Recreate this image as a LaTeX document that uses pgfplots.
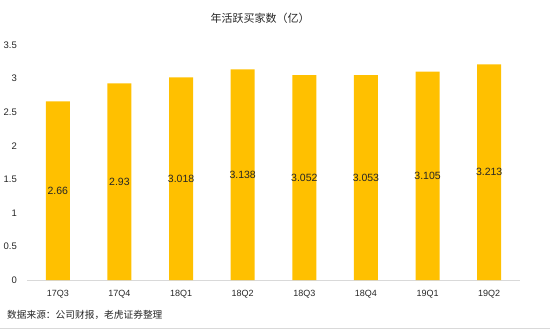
\documentclass[border=0pt]{standalone}
\usepackage{pgfplots}
\pgfplotsset{compat=1.18}
\usepackage{pgfplotstable}
\usepackage{fontspec}
\setmainfont{Liberation Sans}
\newfontfamily\cjk{Noto Sans CJK SC}
\definecolor{bargold}{HTML}{FFC000}
\definecolor{txt}{HTML}{262626}
\definecolor{axgray}{HTML}{D9D9D9}
\pgfplotstableread{
x y lab
0 2.66 2.66
1 2.93 2.93
2 3.018 3.018
3 3.138 3.138
4 3.052 3.052
5 3.053 3.053
6 3.105 3.105
7 3.213 3.213
}\datatable
\begin{document}
\begin{tikzpicture}[x=1bp,y=1bp]
\path[use as bounding box] (0,0) rectangle (550,329);
\begin{axis}[
  at={(27bp,49bp)}, anchor=south west,
  scale only axis, width=493bp, height=235bp,
  xmin=-0.5, xmax=7.5, ymin=0, ymax=3.5,
  ytick={0,0.5,1,1.5,2,2.5,3,3.5},
  yticklabels={0,0.5,1,1.5,2,2.5,3,3.5},
  xtick={0,1,2,3,4,5,6,7},
  xticklabels={17Q3,17Q4,18Q1,18Q2,18Q3,18Q4,19Q1,19Q2},
  major tick length=0pt,
  axis line style={draw=none},
  extra y ticks={0}, extra y tick labels={},
  extra y tick style={grid=major, major grid style={axgray, line width=1bp}},
  y tick label style={font=\fontsize{9.5bp}{11bp}\selectfont, text=txt, anchor=east, inner sep=0pt, xshift=-10bp},
  x tick label style={font=\fontsize{9bp}{10bp}\selectfont, text=txt, anchor=north, inner sep=0pt, yshift=-10.5bp},
  clip=false,
]
\addplot[ybar, bar width=24bp, fill=bargold, draw=none] table[x=x, y=y] {\datatable};
\addplot[draw=none, mark=none, nodes near coords, point meta=explicit symbolic,
  nodes near coords style={anchor=center, font=\fontsize{10.5bp}{12bp}\selectfont, text=txt, inner sep=0pt}]
  table[x=x, y expr=\thisrow{y}/2, meta=lab] {\datatable};
\end{axis}
\node[font=\cjk\fontsize{11bp}{13bp}\selectfont, text=txt] at (260,311) {年活跃买家数（亿）};
\node[anchor=west, inner sep=0pt, font=\cjk\fontsize{9.7bp}{11bp}\selectfont, text=txt] at (7,14) {数据来源：公司财报，老虎证券整理};
\draw[axgray, line width=1bp] (0,0.5) -- (550,0.5);
\end{tikzpicture}
\end{document}
